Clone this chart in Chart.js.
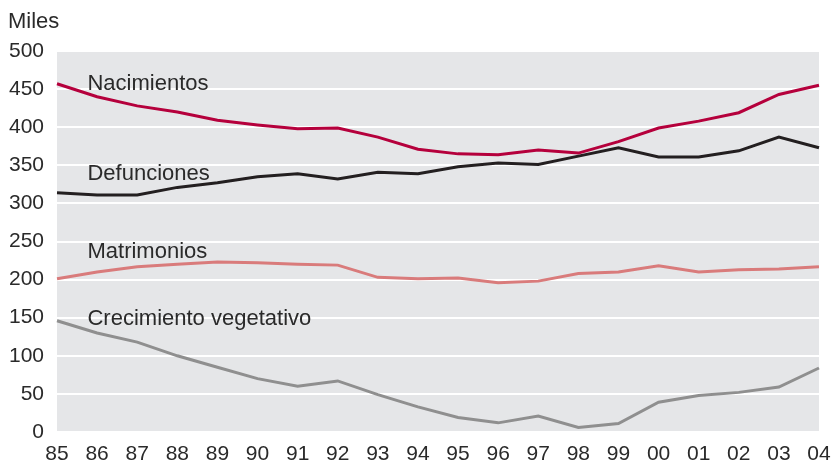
<!DOCTYPE html>
<html>
<head>
<meta charset="utf-8">
<script src="https://cdn.jsdelivr.net/npm/chart.js@4.4.1/dist/chart.umd.min.js"></script>
<style>
  html, body { margin: 0; padding: 0; background: #fff; }
  #wrap { width: 833px; height: 465px; }
</style>
</head>
<body>
<div id="wrap"><canvas id="myChart" width="833" height="465"></canvas></div>
<script>
// years and series (thousands)
let years = ['85','86','87','88','89','90','91','92','93','94','95','96','97','98','99','00','01','02','03','04'],
    nacimientos = [457,440,428,420,409,403,398,399,387,371,365,364,370,366,381,399,408,419,443,455],
    defunciones = [314,311,311,321,327,335,339,332,341,339,348,353,351,362,373,361,361,369,387,373],
    matrimonios = [201,210,217,220,223,222,220,219,203,201,202,196,198,208,210,218,210,213,214,217],
    crecimiento = [146,130,118,100,85,70,60,67,49,33,19,12,21,6,11,39,48,52,59,84]

// series names, colours and where their labels sit (index, value)
let seriesNames = ['Nacimientos', 'Defunciones', 'Matrimonios', 'Crecimiento vegetativo'],
    seriesColors = ['#b5003c', '#231f20', '#d97b7b', '#8f8f8f'],
    labelIndex = [0.76, 0.76, 0.76, 0.76],
    labelValue = [449, 331, 228, 140]

let textColor = '#2a2a2a'

// gray plot background + labels
const decor = {
    id: 'decor',
    beforeDraw(chart) {
        const a = chart.chartArea, ctx = chart.ctx;
        ctx.save();
        ctx.fillStyle = '#e5e6e8';
        ctx.fillRect(a.left, a.top, a.right - a.left, a.bottom - a.top);
        ctx.restore();
    },
    afterDatasetsDraw(chart) {
        const ctx = chart.ctx, x = chart.scales.x, y = chart.scales.y;
        ctx.save();
        ctx.fillStyle = textColor;
        ctx.textAlign = 'left';
        ctx.textBaseline = 'alphabetic';
        ctx.font = '22px "Liberation Sans", Arial, sans-serif';
        ctx.fillText('Miles', 8, 28);
        for (let i = 0; i < seriesNames.length; i++) {
            ctx.fillText(seriesNames[i], x.getPixelForValue(labelIndex[i]), y.getPixelForValue(labelValue[i]));
        }
        ctx.restore();
    }
};

function makeSet(label, data, color) {
    return {
        label: label,
        data: data,
        borderColor: color,
        backgroundColor: color,
        borderWidth: 3,
        pointRadius: 0,
        tension: 0,
        fill: false
    };
}

new Chart(document.getElementById('myChart'), {
    type: 'line',
    data: {
        labels: years,
        datasets: [
            makeSet(seriesNames[0], nacimientos, seriesColors[0]),
            makeSet(seriesNames[1], defunciones, seriesColors[1]),
            makeSet(seriesNames[2], matrimonios, seriesColors[2]),
            makeSet(seriesNames[3], crecimiento, seriesColors[3])
        ]
    },
    options: {
        responsive: false,
        animation: false,
        layout: { padding: { top: 51, right: 14, left: 0, bottom: 0 } },
        plugins: { legend: { display: false }, tooltip: { enabled: false } },
        scales: {
            x: {
                type: 'category',
                offset: false,
                grid: { display: false, drawTicks: false },
                border: { display: false },
                ticks: {
                    color: textColor,
                    font: { family: '"Liberation Sans", Arial, sans-serif', size: 21 },
                    padding: 10,
                    maxRotation: 0,
                    autoSkip: false
                },
                afterFit(scale) {
                    scale.height = 33;
                    scale.paddingRight = 0;
                    scale.paddingLeft = 0;
                }
            },
            y: {
                min: 0,
                max: 500,
                grid: { color: '#ffffff', lineWidth: 2, drawTicks: false },
                border: { display: false },
                ticks: {
                    stepSize: 50,
                    color: textColor,
                    font: { family: '"Liberation Sans", Arial, sans-serif', size: 21 },
                    padding: 13
                },
                afterFit(scale) {
                    scale.width = 57;
                    scale.paddingTop = 0;
                    scale.paddingBottom = 0;
                }
            }
        }
    },
    plugins: [decor]
});
</script>
</body>
</html>
